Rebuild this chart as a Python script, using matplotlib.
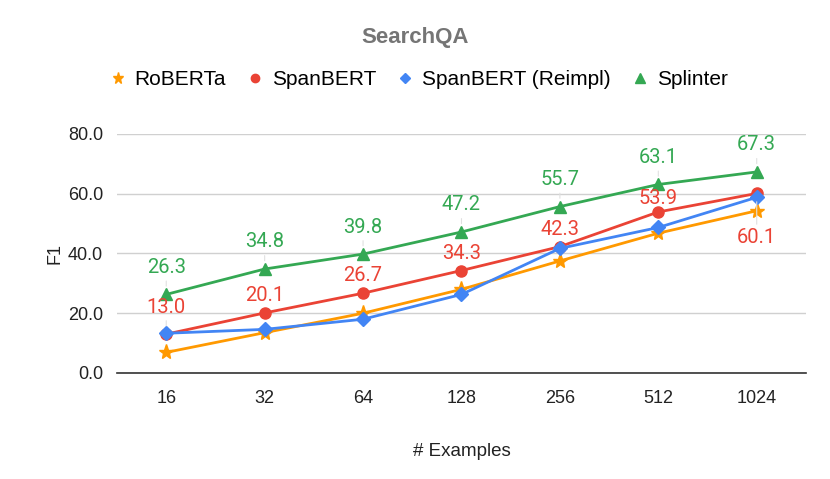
import matplotlib.pyplot as plt
import numpy as np

plt.rcParams['font.family'] = ['Liberation Sans', 'DejaVu Sans']

examples = ["16", "32", "64", "128", "256", "512", "1024"]
roberta = [6.9, 13.5, 20.0, 28.0, 37.5, 46.8, 54.3]
spanbert = [13.0, 20.1, 26.7, 34.3, 42.3, 53.9, 60.1]
spanbert_reimpl = [13.3, 14.6, 18.0, 26.3, 41.7, 48.7, 58.8]
splinter = [26.3, 34.8, 39.8, 47.2, 55.7, 63.1, 67.3]

c_orange = "#FF9900"
c_red = "#EA4335"
c_blue = "#4285F4"
c_green = "#34A853"

# label offsets in points (Google-style auto placement)
spanbert_dy = [19.5, 12.5, 12.5, 12.5, 12.5, 10, -32]
splinter_dy = [19.5] * len(splinter)

fig = plt.figure(figsize=(8.3, 4.79), dpi=100)
ax = fig.add_axes([0.141, 0.2213, 0.830, 0.499])
x = np.arange(len(examples))

ax.plot(x, roberta, color=c_orange, lw=2, marker="*", ms=11, label="RoBERTa", zorder=3)
ax.plot(x, spanbert, color=c_red, lw=2, marker="o", ms=8, label="SpanBERT", zorder=4)
ax.plot(x, spanbert_reimpl, color=c_blue, lw=2, marker="D", ms=7, label="SpanBERT (Reimpl)", zorder=5)
ax.plot(x, splinter, color=c_green, lw=2, marker="^", ms=9, label="Splinter", zorder=6)

# data labels (Splinter and SpanBERT only)
for series, offs, col in [(splinter, splinter_dy, c_green), (spanbert, spanbert_dy, c_red)]:
    for i, v in enumerate(series):
        # thin leader line only when the label sits far from its point
        arrow = None
        if abs(offs[i]) > 15:
            arrow = dict(arrowstyle="-", color="#e0e0e0", lw=0.8, shrinkA=1, shrinkB=6)
        ax.annotate(f"{v:.1f}", (i, v), xytext=(0, offs[i]), textcoords="offset points",
                    ha="center", va="center", color=col, fontsize=14.5, family="Roboto",
                    zorder=10, arrowprops=arrow)

ax.set_xlim(-0.5, len(examples) - 0.5)
ax.set_ylim(0, 80)
ax.set_xticks(x)
ax.set_xticklabels(examples)
ax.set_yticks([0, 20, 40, 60, 80])
ax.set_yticklabels(["0.0", "20.0", "40.0", "60.0", "80.0"])
ax.tick_params(axis="both", length=0, labelsize=13, colors="#222222")
ax.tick_params(axis="x", pad=12)
ax.tick_params(axis="y", pad=10)
ax.grid(axis="y", color="#d0d0d0", lw=1)
ax.set_axisbelow(True)
for s in ["top", "right", "left"]:
    ax.spines[s].set_visible(False)
ax.spines["bottom"].set_color("#333333")
ax.spines["bottom"].set_linewidth(1.2)

ax.set_xlabel("# Examples", fontsize=13.5, color="#222222", labelpad=26)
ax.set_ylabel("F1", fontsize=13, color="#222222", labelpad=3)

fig.text(0.5, 0.921, "SearchQA", ha="center", va="center", fontsize=16,
         fontweight="bold", color="#757575")
ax.legend(loc="center", bbox_to_anchor=(0.503, 0.833), bbox_transform=fig.transFigure,
          ncol=4, frameon=False, fontsize=15, handletextpad=0.3, columnspacing=0.9,
          handlelength=1.0, markerscale=0.75, borderpad=0)
leg = ax.get_legend()
for h in leg.legend_handles:
    h.set_linestyle("none")

fig.savefig("out.png", dpi=100)
